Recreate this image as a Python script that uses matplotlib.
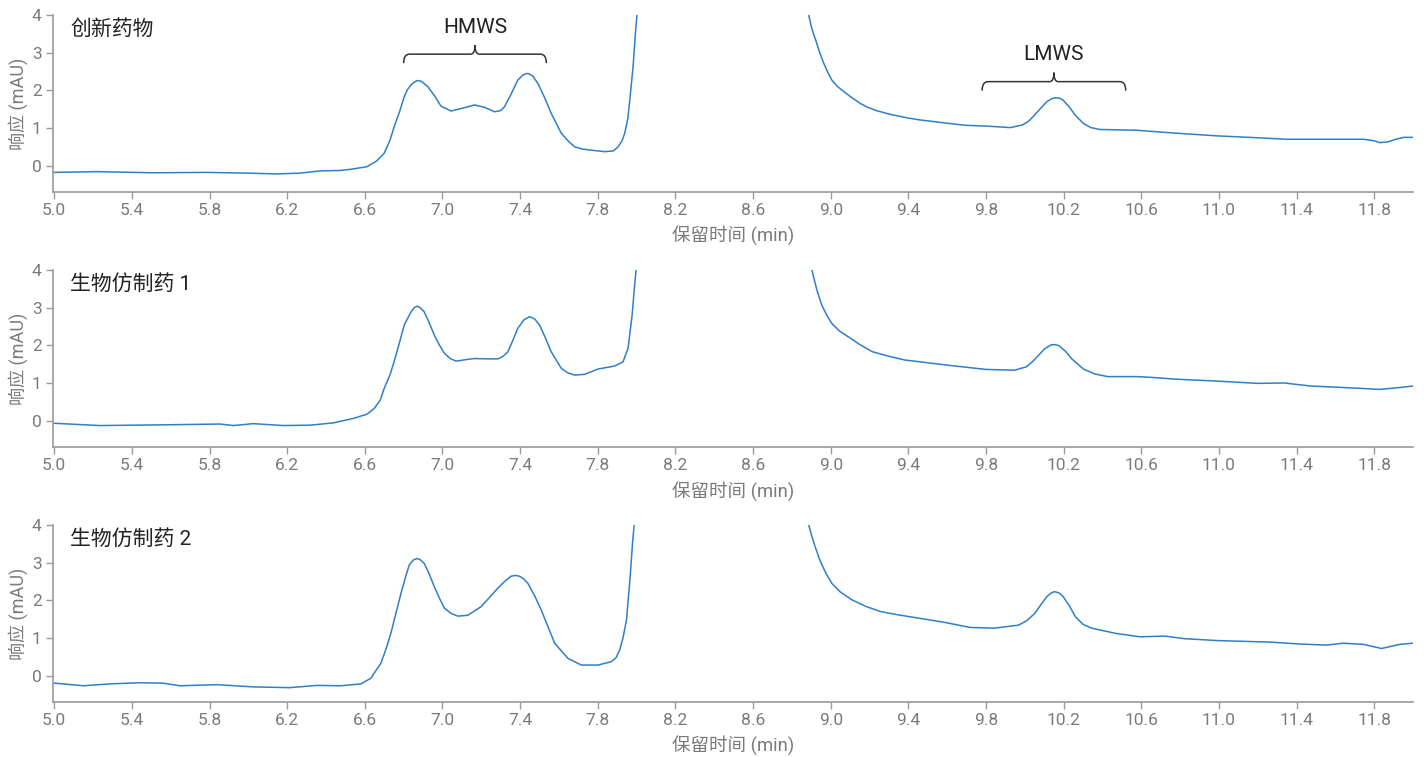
import matplotlib
matplotlib.use('Agg')
import matplotlib.pyplot as plt
from matplotlib.path import Path
from matplotlib.patches import PathPatch

plt.rcParams['font.family'] = ['Roboto', 'Noto Sans CJK SC', 'DejaVu Sans']

# 三个样品的色谱图数据：保留时间 (min) 与响应 (mAU)
# 主峰超出坐标范围（8.0~8.9 min），用 6.0 表示越界点
t_innov = [5.00, 5.22, 5.51, 5.785, 6.00, 6.146, 6.266, 6.37, 6.47, 6.524, 6.61, 6.66, 6.70, 6.73,
           6.751, 6.78, 6.803, 6.82, 6.838, 6.855, 6.872, 6.89, 6.905, 6.924, 6.96, 6.992, 7.044,
           7.10, 7.165, 7.216, 7.268, 7.30, 7.319, 7.35, 7.388, 7.415, 7.44, 7.465, 7.492, 7.525,
           7.56, 7.612, 7.65, 7.681, 7.72, 7.767, 7.836, 7.88, 7.905, 7.925, 7.939, 7.955, 7.965,
           7.982, 7.994, 8.004, 8.02, 8.87, 8.885, 8.90, 8.91, 8.923, 8.94, 8.964, 8.985, 9.006,
           9.035, 9.069, 9.11, 9.153, 9.19, 9.236, 9.30, 9.382, 9.45, 9.529, 9.61, 9.696, 9.80,
           9.926, 9.988, 10.02, 10.05, 10.085, 10.114, 10.14, 10.16, 10.18, 10.197, 10.23, 10.26,
           10.302, 10.34, 10.386, 10.574, 10.783, 10.992, 11.20, 11.347, 11.514, 11.744, 11.80,
           11.828, 11.87, 11.911, 11.953, 12.0]
y_innov = [-0.18, -0.16, -0.19, -0.18, -0.20, -0.22, -0.20, -0.14, -0.13, -0.10, -0.03, 0.12, 0.33, 0.68,
           1.03, 1.45, 1.83, 2.02, 2.14, 2.22, 2.26, 2.24, 2.18, 2.10, 1.85, 1.58, 1.45,
           1.52, 1.61, 1.55, 1.43, 1.46, 1.56, 1.86, 2.27, 2.41, 2.45, 2.38, 2.18, 1.82,
           1.39, 0.86, 0.64, 0.50, 0.44, 0.41, 0.37, 0.39, 0.50, 0.66, 0.86, 1.25, 1.74,
           2.63, 3.51, 4.13, 6.0, 6.0, 4.03, 3.70, 3.52, 3.33, 3.05, 2.72, 2.48, 2.27,
           2.10, 1.96, 1.80, 1.65, 1.55, 1.46, 1.37, 1.28, 1.22, 1.17, 1.12, 1.07, 1.05,
           1.01, 1.08, 1.18, 1.34, 1.54, 1.70, 1.78, 1.80, 1.79, 1.74, 1.55, 1.34,
           1.12, 1.01, 0.96, 0.94, 0.86, 0.79, 0.74, 0.70, 0.70, 0.70, 0.66,
           0.61, 0.63, 0.70, 0.75, 0.75]

t_bio1 = [5.00, 5.235, 5.58, 5.854, 5.923, 6.026, 6.18, 6.318, 6.438, 6.541, 6.61, 6.648, 6.68, 6.70,
          6.73, 6.751, 6.78, 6.803, 6.838, 6.855, 6.869, 6.885, 6.906, 6.93, 6.958, 6.985, 7.01,
          7.04, 7.07, 7.12, 7.165, 7.233, 7.285, 7.31, 7.337, 7.36, 7.388, 7.42, 7.449, 7.475,
          7.50, 7.53, 7.56, 7.612, 7.645, 7.681, 7.733, 7.801, 7.887, 7.93, 7.956, 7.977, 7.99,
          8.00, 8.02, 8.88, 8.902, 8.915, 8.93, 8.954, 8.98, 9.006, 9.045, 9.09, 9.15, 9.215,
          9.30, 9.382, 9.48, 9.591, 9.80, 9.947, 10.009, 10.04, 10.072, 10.10, 10.135, 10.155,
          10.177, 10.21, 10.24, 10.302, 10.36, 10.427, 10.574, 10.65, 10.783, 10.992, 11.20,
          11.336, 11.472, 11.681, 11.827, 11.932, 12.0]
y_bio1 = [-0.07, -0.13, -0.11, -0.09, -0.13, -0.08, -0.13, -0.12, -0.06, 0.06, 0.17, 0.32, 0.55, 0.86,
          1.22, 1.57, 2.10, 2.54, 2.89, 3.00, 3.04, 3.00, 2.89, 2.62, 2.27, 2.00, 1.79,
          1.65, 1.58, 1.62, 1.65, 1.64, 1.64, 1.70, 1.83, 2.10, 2.45, 2.68, 2.76, 2.70,
          2.54, 2.20, 1.83, 1.39, 1.27, 1.21, 1.23, 1.37, 1.45, 1.56, 1.92, 2.80, 3.60,
          4.13, 6.0, 6.0, 4.04, 3.75, 3.45, 3.07, 2.80, 2.58, 2.38, 2.23, 2.02, 1.83,
          1.71, 1.61, 1.55, 1.48, 1.36, 1.34, 1.43, 1.57, 1.74, 1.90, 2.01, 2.02,
          1.99, 1.84, 1.65, 1.37, 1.24, 1.17, 1.17, 1.15, 1.10, 1.05, 0.99,
          1.00, 0.92, 0.87, 0.83, 0.88, 0.92]

t_bio2 = [5.00, 5.15, 5.287, 5.442, 5.56, 5.648, 5.837, 6.026, 6.215, 6.353, 6.476, 6.58, 6.631, 6.683,
          6.71, 6.734, 6.76, 6.786, 6.81, 6.829, 6.85, 6.869, 6.885, 6.906, 6.93, 6.958, 6.985,
          7.01, 7.045, 7.079, 7.13, 7.199, 7.285, 7.32, 7.354, 7.375, 7.397, 7.42, 7.44, 7.475,
          7.509, 7.545, 7.578, 7.646, 7.715, 7.801, 7.87, 7.895, 7.913, 7.93, 7.948, 7.967, 7.979,
          7.988, 8.00, 8.87, 8.885, 8.90, 8.92, 8.944, 8.975, 9.006, 9.05, 9.11, 9.18, 9.257,
          9.34, 9.424, 9.591, 9.717, 9.842, 9.968, 10.01, 10.051, 10.085, 10.114, 10.135, 10.152,
          10.175, 10.197, 10.23, 10.26, 10.30, 10.344, 10.469, 10.595, 10.72, 10.824, 10.992,
          11.263, 11.41, 11.556, 11.64, 11.744, 11.838, 11.932, 12.0]
y_bio2 = [-0.20, -0.27, -0.22, -0.19, -0.20, -0.27, -0.24, -0.30, -0.32, -0.26, -0.27, -0.22, -0.07, 0.33,
          0.72, 1.12, 1.65, 2.18, 2.62, 2.94, 3.07, 3.11, 3.08, 2.98, 2.72, 2.36, 2.05,
          1.79, 1.65, 1.58, 1.60, 1.83, 2.32, 2.50, 2.64, 2.66, 2.64, 2.56, 2.45, 2.12,
          1.74, 1.28, 0.86, 0.46, 0.28, 0.28, 0.37, 0.48, 0.68, 1.00, 1.48, 2.63, 3.51,
          4.04, 6.0, 6.0, 4.04, 3.75, 3.42, 3.07, 2.72, 2.45, 2.22, 2.01, 1.84, 1.70,
          1.62, 1.55, 1.41, 1.28, 1.26, 1.34, 1.46, 1.65, 1.90, 2.10, 2.19, 2.23,
          2.20, 2.10, 1.85, 1.57, 1.36, 1.26, 1.12, 1.03, 1.05, 0.98, 0.93,
          0.89, 0.84, 0.81, 0.86, 0.83, 0.72, 0.83, 0.86]

sample_names = ['创新药物', '生物仿制药 1', '生物仿制药 2']
x_ticks = [5.0, 5.4, 5.8, 6.2, 6.6, 7.0, 7.4, 7.8, 8.2, 8.6, 9.0, 9.4, 9.8, 10.2, 10.6, 11.0, 11.4, 11.8]
y_ticks = [0, 1, 2, 3, 4]

# 聚集体 / 片段 标注范围 (min)
hmws_range = [6.80, 7.535]
lmws_range = [9.78, 10.52]

line_color = '#2f7ec8'
grey = '#7a7a7a'


def draw_brace(ax, x0, x1, y_line, y_end, y_tip, label, y_text):
    '''在数据坐标里画一个横向花括号，并在上方写标签'''
    xc = (x0 + x1) / 2
    r = 0.03
    r2 = 0.022
    verts = [(x0, y_end), (x0, y_line), (x0 + r, y_line),
             (xc - r2, y_line), (xc, y_line), (xc, y_tip),
             (xc, y_line), (xc + r2, y_line),
             (x1 - r, y_line), (x1, y_line), (x1, y_end)]
    codes = [Path.MOVETO, Path.CURVE3, Path.CURVE3,
             Path.LINETO, Path.CURVE3, Path.CURVE3,
             Path.CURVE3, Path.CURVE3,
             Path.LINETO, Path.CURVE3, Path.CURVE3]
    ax.add_patch(PathPatch(Path(verts, codes), fill=False, edgecolor='#333333', lw=1.1,
                           clip_on=False))
    ax.text(xc, y_text, label, ha='center', va='center', fontsize=15, color='#222222')


fig = plt.figure(figsize=(14.24, 7.57), dpi=100)
bottoms = [0.7464, 0.4095, 0.0727]
traces = [(t_innov, y_innov), (t_bio1, y_bio1), (t_bio2, y_bio2)]

axes = []
for name, b, (t, y) in zip(sample_names, bottoms, traces):
    ax = fig.add_axes([0.037, b, 0.9553, 0.2338])
    ax.plot(t, y, color=line_color, lw=1.1)
    ax.set_xlim(4.992, 12.0)
    ax.set_ylim(-0.7, 4.0)
    ax.set_xticks(x_ticks)
    ax.set_xticklabels([f'{v:.1f}' for v in x_ticks])
    ax.set_yticks(y_ticks)
    for side in ['top', 'right']:
        ax.spines[side].set_visible(False)
    for side in ['left', 'bottom']:
        ax.spines[side].set_color('#9a9a9a')
        ax.spines[side].set_linewidth(1.2)
    ax.tick_params(axis='both', colors='#9a9a9a', labelcolor=grey, labelsize=12.5,
                   length=5, width=1.0, pad=3)
    ax.set_xlabel('保留时间 (min)', fontsize=13.3, color=grey, labelpad=6)
    ax.set_ylabel('响应 (mAU)', fontsize=13, color=grey, labelpad=3)
    ax.text(0.013, 0.92, name, transform=ax.transAxes, fontsize=15, color='#222222',
            ha='left', va='center')
    axes.append(ax)

draw_brace(axes[0], hmws_range[0], hmws_range[1], 2.96, 2.72, 3.2, 'HMWS', 3.68)
draw_brace(axes[0], lmws_range[0], lmws_range[1], 2.23, 1.99, 2.47, 'LMWS', 2.94)

plt.savefig('out.png', dpi=100)
